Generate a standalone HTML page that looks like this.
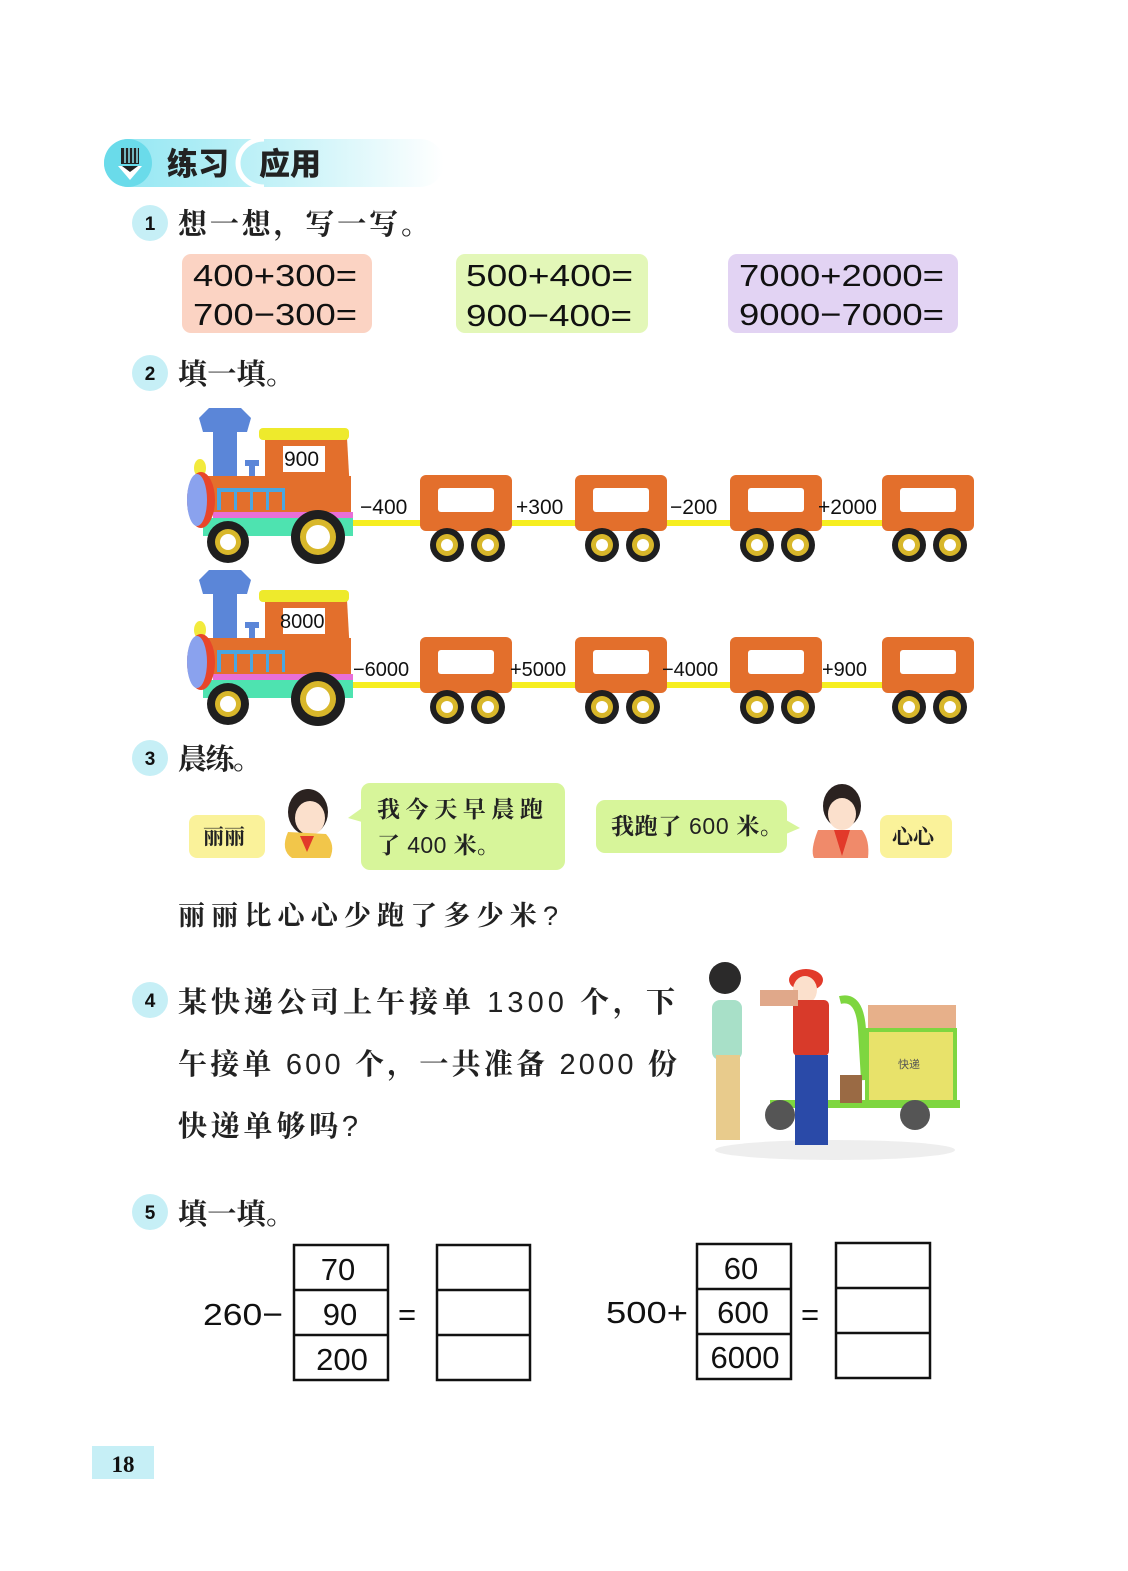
<!DOCTYPE html>
<html><head><meta charset="utf-8"><style>
html,body{margin:0;padding:0;background:#fff;}
svg{display:block}
.cjk{font-family:"Liberation Sans","Noto Serif CJK SC","Noto Sans CJK SC",serif;font-weight:700;fill:#222}
.n{font-weight:400}
.num{font-family:"Liberation Sans",sans-serif;fill:#111}
</style></head><body>
<svg width="1128" height="1571" viewBox="0 0 1128 1571" xmlns="http://www.w3.org/2000/svg">
<defs>
<linearGradient id="hg" x1="0" x2="1" y1="0" y2="0">
<stop offset="0" stop-color="#8fe6f2"/><stop offset="0.55" stop-color="#c9f3f8"/><stop offset="1" stop-color="#ffffff"/>
</linearGradient>
<g id="car">
<rect x="0" y="0" width="92" height="56" rx="6" fill="#e36f2c"/>
<rect x="18" y="13" width="56" height="24" rx="3" fill="#fff"/>
<circle cx="27" cy="70" r="17" fill="#1f1f1f"/><circle cx="27" cy="70" r="11" fill="#d8b72a"/><circle cx="27" cy="70" r="6" fill="#fff"/>
<circle cx="68" cy="70" r="17" fill="#1f1f1f"/><circle cx="68" cy="70" r="11" fill="#d8b72a"/><circle cx="68" cy="70" r="6" fill="#fff"/>
</g>
<g id="eng">
<polygon points="24,0 56,0 66,10 62,24 18,24 14,10" fill="#5b86d8"/>
<rect x="28" y="24" width="24" height="45" fill="#5b86d8"/>
<rect x="60" y="52" width="14" height="6" fill="#5b86d8"/><rect x="64" y="56" width="6" height="14" fill="#5b86d8"/>
<ellipse cx="15" cy="60" rx="6" ry="9" fill="#f2ea3c"/>
<path d="M80,30 L162,30 L166,102 L80,102 Z" fill="#e36f2c"/>
<rect x="74" y="20" width="90" height="12" rx="4" fill="#eeea2c"/>
<rect x="98" y="38" width="42" height="26" fill="#fff"/>
<rect x="18" y="68" width="148" height="38" fill="#e36f2c"/>
<rect x="32" y="80" width="68" height="22" fill="#4aa6e0"/>
<rect x="36" y="84" width="13" height="18" fill="#e36f2c"/><rect x="52" y="84" width="13" height="18" fill="#e36f2c"/><rect x="68" y="84" width="13" height="18" fill="#e36f2c"/><rect x="84" y="84" width="13" height="18" fill="#e36f2c"/>
<rect x="28" y="104" width="140" height="8" fill="#e86fd8"/>
<rect x="18" y="110" width="150" height="18" fill="#4ee3b0"/>
<ellipse cx="16" cy="92" rx="14" ry="28" fill="#e8462a"/>
<ellipse cx="12" cy="92" rx="10" ry="26" fill="#8aa2ee"/>
<circle cx="43" cy="134" r="21" fill="#1f1f1f"/><circle cx="43" cy="134" r="13" fill="#d8b72a"/><circle cx="43" cy="134" r="8" fill="#fff"/>
<circle cx="133" cy="129" r="27" fill="#1f1f1f"/><circle cx="133" cy="129" r="18" fill="#d8b72a"/><circle cx="133" cy="129" r="12" fill="#fff"/>
</g>
</defs>

<rect x="104" y="139" width="340" height="48" rx="24" fill="url(#hg)"/>
<circle cx="128" cy="163" r="24" fill="#6adbea"/>
<path d="M264,139 A26,24 0 0 0 264,187" stroke="#fff" stroke-width="5" fill="none"/>
<rect x="121" y="148" width="18" height="16" fill="#222"/>
<g stroke="#8fe6f2" stroke-width="1.5"><line x1="125" y1="148" x2="125" y2="163"/><line x1="129" y1="148" x2="129" y2="163"/><line x1="133" y1="148" x2="133" y2="163"/><line x1="137" y1="148" x2="137" y2="163"/></g>
<polygon points="118,166 142,166 130,180" fill="#fff"/><polygon points="122,166 138,166 130,172" fill="#222"/>
<text x="167" y="175" font-size="31" style="font-family:'Noto Sans CJK SC',sans-serif;font-weight:900;fill:#222">练习</text>
<text x="259" y="175" font-size="31" style="font-family:'Noto Sans CJK SC',sans-serif;font-weight:900;fill:#222">应用</text>

<g style="font-family:'Liberation Sans',sans-serif;font-weight:700" font-size="19" text-anchor="middle" fill="#111">
<circle cx="150" cy="223" r="18" fill="#c6eff6"/><text x="150" y="230">1</text>
<circle cx="150" cy="373" r="18" fill="#c6eff6"/><text x="150" y="380">2</text>
<circle cx="150" cy="758" r="18" fill="#c6eff6"/><text x="150" y="765">3</text>
<circle cx="150" cy="1000" r="18" fill="#c6eff6"/><text x="150" y="1007">4</text>
<circle cx="150" cy="1212" r="18" fill="#c6eff6"/><text x="150" y="1219">5</text>
</g>
<text class="cjk" x="178" y="234" font-size="29" textLength="252" lengthAdjust="spacing">想一想，写一写。</text>
<text class="cjk" x="178" y="384" font-size="29" textLength="117" lengthAdjust="spacing">填一填。</text>
<text class="cjk" x="178" y="769" font-size="29" textLength="84" lengthAdjust="spacing">晨练。</text>
<text class="cjk" x="178" y="1224" font-size="29" textLength="117" lengthAdjust="spacing">填一填。</text>

<rect x="182" y="254" width="190" height="79" rx="9" fill="#fbd3c3"/>
<rect x="456" y="254" width="192" height="79" rx="9" fill="#e3f7b8"/>
<rect x="728" y="254" width="230" height="79" rx="9" fill="#e2d3f3"/>
<g class="num" font-size="31">
<text x="193" y="286" textLength="164" lengthAdjust="spacingAndGlyphs">400+300=</text><text x="193" y="325" textLength="164" lengthAdjust="spacingAndGlyphs">700−300=</text>
<text x="466" y="286" textLength="167" lengthAdjust="spacingAndGlyphs">500+400=</text><text x="466" y="326" textLength="166" lengthAdjust="spacingAndGlyphs">900−400=</text>
<text x="739" y="286" textLength="205" lengthAdjust="spacingAndGlyphs">7000+2000=</text><text x="739" y="325" textLength="205" lengthAdjust="spacingAndGlyphs">9000−7000=</text>
</g>

<rect x="345" y="520" width="625" height="6" fill="#f6ee20"/>
<use href="#eng" x="185" y="408"/>
<use href="#car" x="420" y="475"/><use href="#car" x="575" y="475"/><use href="#car" x="730" y="475"/><use href="#car" x="882" y="475"/>
<g class="num" font-size="21">
<text x="284" y="466">900</text>
<text x="360" y="514">−400</text><text x="516" y="514">+300</text><text x="670" y="514">−200</text><text x="818" y="514">+2000</text>
</g>
<rect x="345" y="682" width="625" height="6" fill="#f6ee20"/>
<use href="#eng" x="185" y="570"/>
<use href="#car" x="420" y="637"/><use href="#car" x="575" y="637"/><use href="#car" x="730" y="637"/><use href="#car" x="882" y="637"/>
<g class="num" font-size="20">
<text x="280" y="628">8000</text>
<text x="353" y="676">−6000</text><text x="510" y="676">+5000</text><text x="662" y="676">−4000</text><text x="822" y="676">+900</text>
</g>

<rect x="189" y="815" width="76" height="43" rx="8" fill="#faf29a"/>
<text class="cjk" x="203" y="844" font-size="21">丽丽</text>
<g>
<ellipse cx="308" cy="812" rx="20" ry="23" fill="#2b2220"/>
<ellipse cx="310" cy="818" rx="15" ry="17" fill="#fbe0cc"/>
<path d="M288,832 Q280,850 292,858 L330,858 Q336,845 326,834 Z" fill="#f2c64a"/>
<polygon points="300,836 314,836 307,852" fill="#e23a2a"/>
</g>
<rect x="361" y="783" width="204" height="87" rx="9" fill="#d7f59a"/>
<polygon points="362,808 348,818 362,822" fill="#d7f59a"/>
<text class="cjk" x="377" y="817" font-size="23" textLength="166" lengthAdjust="spacing">我今天早晨跑</text>
<text class="cjk" x="377" y="853" font-size="23" textLength="123" lengthAdjust="spacing">了 <tspan class="n">400</tspan> 米。</text>
<rect x="596" y="800" width="191" height="53" rx="9" fill="#d7f59a"/>
<polygon points="786,820 800,828 786,834" fill="#d7f59a"/>
<text class="cjk" x="611" y="834" font-size="23" textLength="172" lengthAdjust="spacing">我跑了 <tspan class="n">600</tspan> 米。</text>
<g>
<ellipse cx="842" cy="806" rx="19" ry="22" fill="#2b2220"/>
<ellipse cx="842" cy="814" rx="14" ry="16" fill="#fbe0cc"/>
<path d="M818,830 Q810,850 814,858 L868,858 Q870,840 862,830 Z" fill="#f08a6a"/>
<polygon points="834,830 850,830 842,856" fill="#e23a2a"/>
</g>
<rect x="880" y="815" width="72" height="43" rx="8" fill="#faf29a"/>
<text class="cjk" x="892" y="844" font-size="21">心心</text>
<text class="cjk" x="178" y="925" font-size="27" textLength="380" lengthAdjust="spacing">丽丽比心心少跑了多少米<tspan class="n">?</tspan></text>

<text class="cjk" x="178" y="1012" font-size="29" textLength="497" lengthAdjust="spacing">某快递公司上午接单 <tspan class="n">1300</tspan> 个，下</text>
<text class="cjk" x="178" y="1074" font-size="29" textLength="499" lengthAdjust="spacing">午接单 <tspan class="n">600</tspan> 个，一共准备 <tspan class="n">2000</tspan> 份</text>
<text class="cjk" x="178" y="1136" font-size="29" textLength="180" lengthAdjust="spacing">快递单够吗<tspan class="n">?</tspan></text>
<g>
<ellipse cx="835" cy="1150" rx="120" ry="10" fill="#eeeeee"/>
<path d="M840,1000 Q860,995 862,1030 L865,1080" stroke="#7ed640" stroke-width="8" fill="none"/>
<rect x="868" y="1005" width="88" height="28" fill="#e7b08a"/>
<rect x="867" y="1030" width="88" height="72" fill="#e8e26a" stroke="#7ed640" stroke-width="4"/>
<text x="898" y="1068" font-size="11" style="font-family:'Noto Sans CJK SC',sans-serif" fill="#555">快递</text>
<rect x="770" y="1100" width="190" height="8" fill="#7ed640"/>
<rect x="840" y="1075" width="22" height="28" fill="#9a6a44"/>
<circle cx="780" cy="1115" r="15" fill="#555"/><circle cx="915" cy="1115" r="15" fill="#555"/>
<circle cx="725" cy="978" r="16" fill="#2b2a2a"/>
<rect x="712" y="1000" width="30" height="60" rx="8" fill="#a8e0c8"/>
<rect x="716" y="1055" width="24" height="85" fill="#e8cb8c"/>
<ellipse cx="806" cy="980" rx="17" ry="11" fill="#e23a2a"/>
<ellipse cx="805" cy="990" rx="12" ry="14" fill="#fbe0cc"/>
<rect x="793" y="1000" width="36" height="56" rx="5" fill="#d83a2a"/>
<rect x="795" y="1055" width="33" height="90" fill="#2a4aa8"/>
<rect x="760" y="990" width="38" height="16" fill="#e0a88a"/>
</g>

<g class="num" font-size="31">
<text x="203" y="1325" textLength="80" lengthAdjust="spacingAndGlyphs">260−</text>
<text x="398" y="1325">=</text>
<text x="606" y="1323" textLength="82" lengthAdjust="spacingAndGlyphs">500+</text>
<text x="801" y="1325">=</text>
</g>
<g fill="none" stroke="#111" stroke-width="2.5">
<rect x="294" y="1245" width="94" height="135"/><line x1="294" y1="1290" x2="388" y2="1290"/><line x1="294" y1="1335" x2="388" y2="1335"/>
<rect x="437" y="1245" width="93" height="135"/><line x1="437" y1="1290" x2="530" y2="1290"/><line x1="437" y1="1335" x2="530" y2="1335"/>
<rect x="697" y="1244" width="94" height="135"/><line x1="697" y1="1289" x2="791" y2="1289"/><line x1="697" y1="1334" x2="791" y2="1334"/>
<rect x="836" y="1243" width="94" height="135"/><line x1="836" y1="1288" x2="930" y2="1288"/><line x1="836" y1="1333" x2="930" y2="1333"/>
</g>
<g class="num" font-size="31" text-anchor="middle">
<text x="338" y="1280">70</text><text x="340" y="1325">90</text><text x="342" y="1370">200</text>
<text x="741" y="1279">60</text><text x="743" y="1323">600</text><text x="745" y="1368">6000</text>
</g>

<rect x="92" y="1446" width="62" height="33" fill="#c6eff6"/>
<text x="123" y="1472" font-size="23" text-anchor="middle" style="font-family:'Liberation Serif',serif;font-weight:700" fill="#111">18</text>
</svg>
</body></html>
